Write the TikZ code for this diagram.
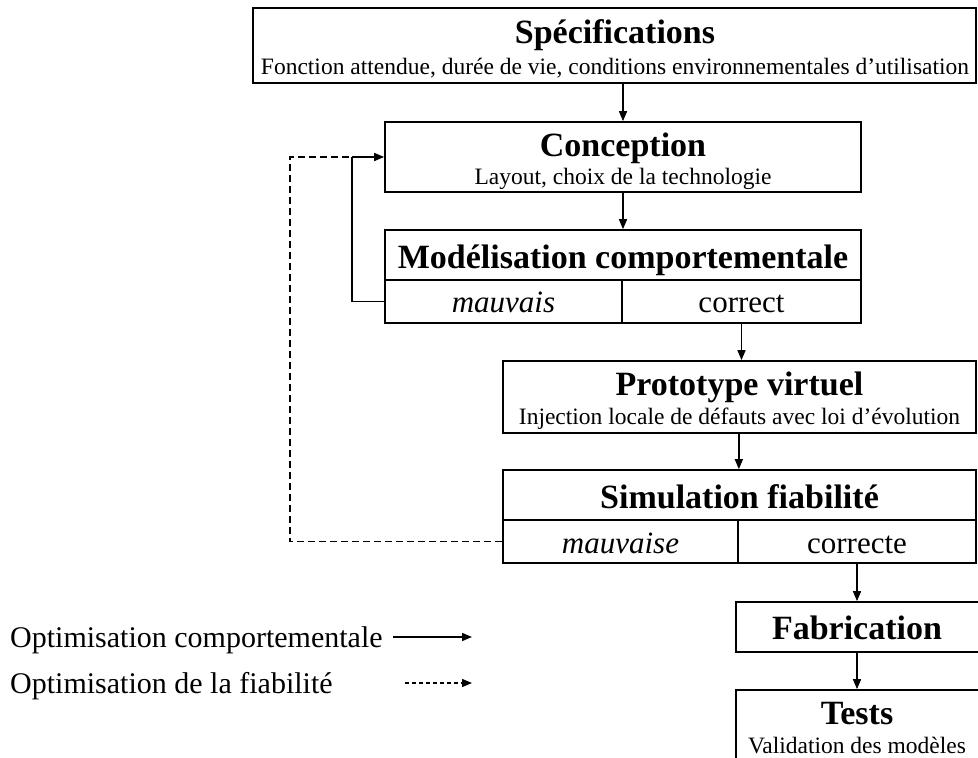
\documentclass[tikz,border=0pt]{standalone}
\usepackage{fontspec}
\setmainfont{Liberation Serif}
\usetikzlibrary{fit,arrows.meta}
\tikzset{
  frame/.style={draw, line width=1.7pt, inner sep=0pt},
  ttl/.style={font=\fontsize{34}{38}\selectfont\bfseries, inner sep=0pt, anchor=base},
  sub/.style={font=\fontsize{23.5}{26}\selectfont, inner sep=0pt, anchor=base},
  cell/.style={font=\fontsize{31}{34}\selectfont, inner sep=0pt, anchor=base},
  legtxt/.style={font=\fontsize{30}{34}\selectfont, inner sep=0pt, anchor=base west},
  arr/.style={line width=1.5pt, -{Triangle[length=10pt,width=8pt]}},
  lnk/.style={line width=1.7pt},
  dsh/.style={line width=1.7pt, dash pattern=on 7pt off 4pt},
}
\begin{document}
\begin{tikzpicture}[x=1pt,y=-1pt]
\useasboundingbox (0,0) rectangle (978,758);
% Spécifications
\node[frame, fit={(253,8) (976,83)}] (spec) {};
\node[ttl] (specT) at (615,43) {Spécifications};
\node[sub] (specS) at (615,74) {Fonction attendue, durée de vie, conditions environnementales d’utilisation};
% Conception
\node[frame, fit={(385,122) (861,192)}] (conc) {};
\node[ttl] (concT) at (623,156) {Conception};
\node[sub] (concS) at (623,184) {Layout, choix de la technologie};
% Modélisation
\node[frame, fit={(385,230) (861,280)}] (mod) {};
\node[frame, fit={(385,280) (622,323)}] (modM) {};
\node[frame, fit={(622,280) (861,323)}] (modC) {};
\node[ttl] (modT) at (623,268) {Modélisation comportementale};
\node[cell, font=\fontsize{31}{34}\selectfont\itshape] (modMt) at (503.5,312) {mauvais};
\node[cell] (modCt) at (741.5,312) {correct};
% Prototype
\node[frame, fit={(503,361) (976,433)}] (proto) {};
\node[ttl] (protoT) at (739.5,395) {Prototype virtuel};
\node[sub] (protoS) at (739.5,424) {Injection locale de défauts avec loi d’évolution};
% Simulation
\node[frame, fit={(503,470) (976,520)}] (sim) {};
\node[frame, fit={(503,520) (738,563)}] (simM) {};
\node[frame, fit={(738,520) (976,563)}] (simC) {};
\node[ttl] (simT) at (739.5,508) {Simulation fiabilité};
\node[cell, font=\fontsize{31}{34}\selectfont\itshape] (simMt) at (620.5,553) {mauvaise};
\node[cell] (simCt) at (857,553) {correcte};
% Fabrication
\node[frame, fit={(736,602) (990,652)}] (fab) {};
\node[ttl] (fabT) at (857,639) {Fabrication};
% Tests
\node[frame, fit={(736,690) (990,775)}] (tests) {};
\node[ttl] (testsT) at (857,724) {Tests};
\node[sub] (testsS) at (857,753) {Validation des modèles};
% arrows
\draw[arr] (conc.north |- spec.south) -- (conc.north);
\draw[arr] (conc.south) -- (conc.south |- mod.north);
\draw[arr] (modC.south) -- (modC.south |- proto.north);
\draw[arr] (proto.south -| simM.east) -- (sim.north -| simM.east);
\draw[arr] (simC.south) -- (simC.south |- fab.north);
\draw[arr] (fab.south -| simC.south) -- (tests.north -| simC.south);
% feedback
\coordinate (fbX) at (352,0);
\coordinate (dsX) at (290,0);
\coordinate (fbTop) at (fbX |- 0,157);
\draw[dsh] (simM.west) -- (simM.west -| dsX) -- (dsX |- fbTop) -- (fbTop);
\draw[lnk] (modM.west) -- (modM.west -| fbX) -- (fbTop);
\draw[arr] (fbTop) -- (conc.west |- fbTop);
% legend
\node[legtxt] (leg1) at (10,647) {Optimisation comportementale};
\node[legtxt] (leg2) at (10,693) {Optimisation de la fiabilité};
\coordinate (l1a) at (393,637);
\coordinate (l1b) at (472,637);
\coordinate (l2a) at (405,683);
\coordinate (l2b) at (472,683);
\draw[arr] (l1a) -- (l1b);
\draw[arr, line width=1.3pt, dash pattern=on 4pt off 3pt] (l2a) -- (l2b);
\end{tikzpicture}
\end{document}
